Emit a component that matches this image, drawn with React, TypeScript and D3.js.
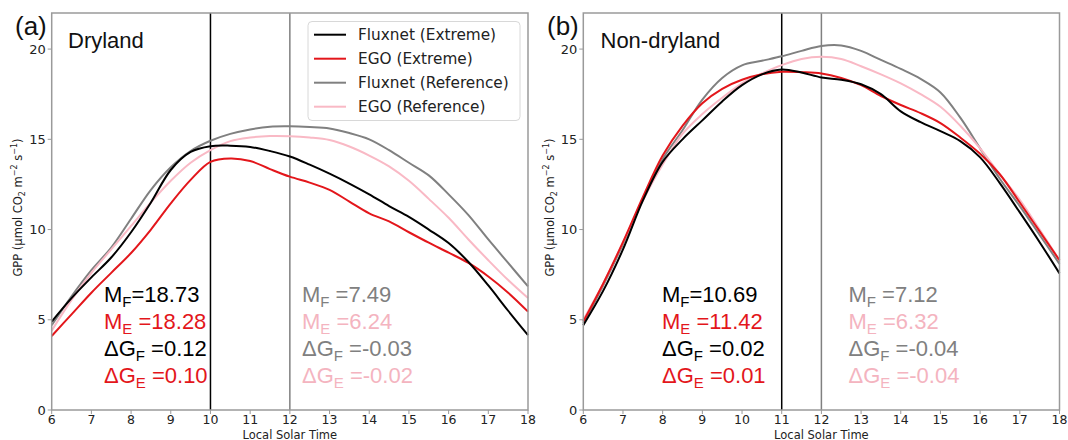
import React from 'react';
import * as d3 from 'd3';

const HOURS = [6, 6.5, 7, 7.5, 8, 8.5, 9, 9.5, 10, 10.5, 11, 11.5, 12, 12.5, 13, 13.5, 14, 14.5, 15, 15.5, 16, 16.5, 17, 17.5, 18];

// Panel (a) Dryland
const DRY_FLUX_EXT = [4.9, 6.2, 7.35, 8.45, 9.85, 11.5, 13.3, 14.3, 14.62, 14.65, 14.58, 14.35, 14.05, 13.6, 13.1, 12.55, 11.95, 11.3, 10.7, 10.0, 9.25, 8.2, 6.9, 5.5, 4.15];
const DRY_EGO_EXT = [4.1, 5.3, 6.5, 7.6, 8.7, 10.0, 11.45, 12.75, 13.75, 13.94, 13.8, 13.35, 12.93, 12.6, 12.2, 11.55, 10.9, 10.45, 9.85, 9.27, 8.72, 8.15, 7.4, 6.5, 5.45];
const DRY_FLUX_REF = [4.7, 6.3, 7.75, 9.0, 10.6, 12.2, 13.45, 14.35, 14.92, 15.3, 15.55, 15.7, 15.72, 15.68, 15.6, 15.35, 15.0, 14.4, 13.7, 13.0, 11.95, 10.8, 9.45, 8.15, 6.85];
const DRY_EGO_REF = [4.4, 6.1, 7.6, 8.9, 10.2, 11.5, 12.7, 13.7, 14.4, 14.9, 15.1, 15.18, 15.17, 15.1, 14.96, 14.6, 14.1, 13.5, 12.7, 11.7, 10.65, 9.45, 8.3, 7.2, 6.2];

// Panel (b) Non-dryland
const NON_FLUX_EXT = [4.7, 6.6, 8.9, 11.6, 13.75, 15.0, 16.05, 17.1, 18.0, 18.6, 18.87, 18.7, 18.43, 18.3, 18.05, 17.5, 16.55, 15.95, 15.45, 14.9, 14.0, 12.56, 10.95, 9.3, 7.57];
const NON_EGO_EXT = [4.9, 7.0, 9.3, 11.8, 14.1, 15.75, 17.0, 17.8, 18.3, 18.6, 18.74, 18.72, 18.65, 18.4, 18.0, 17.4, 16.9, 16.45, 15.9, 15.1, 14.2, 13.05, 11.5, 9.9, 8.3];
const NON_FLUX_REF = [4.8, 6.9, 9.2, 11.7, 13.9, 15.5, 17.2, 18.4, 19.1, 19.35, 19.6, 19.9, 20.17, 20.2, 19.9, 19.4, 18.9, 18.35, 17.6, 16.2, 14.5, 12.8, 11.3, 9.7, 8.1];
const NON_EGO_REF = [5.0, 7.0, 9.3, 11.6, 13.6, 15.3, 16.4, 17.3, 18.1, 18.65, 19.11, 19.45, 19.57, 19.45, 19.05, 18.6, 18.1, 17.5, 16.8, 15.75, 14.5, 13.05, 11.65, 10.0, 8.3];

const X_TICKS = [6, 7, 8, 9, 10, 11, 12, 13, 14, 15, 16, 17, 18];
const Y_TICKS = [0, 5, 10, 15, 20];

const SERIES_NAMES = ['Fluxnet (Extreme)', 'EGO (Extreme)', 'Fluxnet (Reference)', 'EGO (Reference)'];
const SERIES_COLORS = ['#000000', '#e3161b', '#808080', '#f9b9c5'];
const TEXT_COLORS = ['#000000', '#e3161b', '#808080', '#f4b4bf'];

const PANEL_LABELS = ['(a)', '(b)'];
const PANEL_TITLES = ['Dryland', 'Non-dryland'];
const PEAK_EXTREME = [10, 11];
const PEAK_REFERENCE = [12, 12];

const ANNOT_BASE = ['M', 'M', '\u0394G', '\u0394G'];
const ANNOT_SUB = ['F', 'E', 'F', 'E'];
const DRY_EXT_VALUES = ['=18.73', ' =18.28', ' =0.12', ' =0.10'];
const DRY_REF_VALUES = [' =7.49', ' =6.24', ' =-0.03', ' =-0.02'];
const NON_EXT_VALUES = ['=10.69', ' =11.42', ' =0.02', ' =0.01'];
const NON_REF_VALUES = [' =7.12', ' =6.32', ' =-0.04', ' =-0.04'];
const EXT_TEXT_COLORS = [TEXT_COLORS[0], TEXT_COLORS[1], TEXT_COLORS[0], TEXT_COLORS[1]];
const REF_TEXT_COLORS = [TEXT_COLORS[2], TEXT_COLORS[3], TEXT_COLORS[2], TEXT_COLORS[3]];

const X_LABEL = 'Local Solar Time';

const W = 1068;
const H = 440;
const TOP = 13;
const BOTTOM = 410;
const SPINE = '#9a9a9a';
const ARIAL = '"Liberation Sans", Arial, sans-serif';
const DEJAVU = '"DejaVu Sans", sans-serif';

type PanelProps = {
  idx: number;
  left: number;
  right: number;
  series: number[][];
  extValues: string[];
  refValues: string[];
  extX: number;
  refX: number;
  yLabelX: number;
  labelX: number;
  titleX: number;
  legend: boolean;
};

function Annot({ x, values, colors }: { x: number; values: string[]; colors: string[] }) {
  return (
    <g>
      {values.map((v, i) => (
        <text key={i} x={x} y={301.5 + i * 27.3} fontFamily={ARIAL} fontSize={22} fill={colors[i]}>
          {ANNOT_BASE[i]}
          <tspan fontSize={15} dy={5}>{ANNOT_SUB[i]}</tspan>
          <tspan dy={-5}>{v}</tspan>
        </text>
      ))}
    </g>
  );
}

function Panel(p: PanelProps) {
  const x = d3.scaleLinear().domain([6, 18]).range([p.left, p.right]);
  const y = d3.scaleLinear().domain([0, 22]).range([BOTTOM, TOP]);
  const line = d3
    .line<number>()
    .x((_, i) => x(HOURS[i]))
    .y((d) => y(d))
    .curve(d3.curveCatmullRom.alpha(0.5));
  const cy = (TOP + BOTTOM) / 2;
  return (
    <g>
      <line x1={x(PEAK_EXTREME[p.idx])} x2={x(PEAK_EXTREME[p.idx])} y1={TOP} y2={BOTTOM} stroke="#000" strokeWidth={1.5} />
      <line x1={x(PEAK_REFERENCE[p.idx])} x2={x(PEAK_REFERENCE[p.idx])} y1={TOP} y2={BOTTOM} stroke="#808080" strokeWidth={1.5} />
      {[2, 3, 1, 0].map((s) => (
        <path key={s} d={line(p.series[s]) || ''} fill="none" stroke={SERIES_COLORS[s]} strokeWidth={2} />
      ))}
      <rect x={p.left} y={TOP} width={p.right - p.left} height={BOTTOM - TOP} fill="none" stroke={SPINE} strokeWidth={1.5} />
      {X_TICKS.map((t) => (
        <g key={t}>
          <line x1={x(t)} x2={x(t)} y1={BOTTOM} y2={BOTTOM + 4} stroke={SPINE} strokeWidth={1} />
          <text x={x(t)} y={424} textAnchor="middle" fontFamily={DEJAVU} fontSize={12.5} fill="#222">{t}</text>
        </g>
      ))}
      {Y_TICKS.map((t) => (
        <g key={t}>
          <line x1={p.left - 4} x2={p.left} y1={y(t)} y2={y(t)} stroke={SPINE} strokeWidth={1} />
          <text x={p.left - 6} y={y(t) + 4.7} textAnchor="end" fontFamily={DEJAVU} fontSize={13} fill="#222">{t}</text>
        </g>
      ))}
      <text x={(p.left + p.right) / 2} y={438.5} textAnchor="middle" fontFamily={DEJAVU} fontSize={11.5} fill="#222">{X_LABEL}</text>
      <text transform={`translate(${p.yLabelX},${cy - 4}) rotate(-90)`} textAnchor="middle" fontFamily={DEJAVU} fontSize={11.5} fill="#222">
        GPP (μmol CO<tspan fontSize={8} dy={3}>2</tspan>
        <tspan dy={-3}> m</tspan>
        <tspan fontSize={8} dy={-5}>−2</tspan>
        <tspan dy={5}> s</tspan>
        <tspan fontSize={8} dy={-5}>−1</tspan>
        <tspan dy={5}>)</tspan>
      </text>
      <text x={p.labelX} y={35} fontFamily={ARIAL} fontSize={26} fill="#111">{PANEL_LABELS[p.idx]}</text>
      <text x={p.titleX} y={47.5} fontFamily={ARIAL} fontSize={22} fill="#111">{PANEL_TITLES[p.idx]}</text>
      <Annot x={p.extX} values={p.extValues} colors={EXT_TEXT_COLORS} />
      <Annot x={p.refX} values={p.refValues} colors={REF_TEXT_COLORS} />
      {p.legend && (
        <g>
          <rect x={308} y={21.5} width={212} height={99} rx={4} fill="#fff" fillOpacity={0.85} stroke="#d8d8d8" strokeWidth={1} />
          {SERIES_NAMES.map((n, i) => (
            <g key={n}>
              <line x1={314} x2={346} y1={34.7 + i * 24} y2={34.7 + i * 24} stroke={SERIES_COLORS[i]} strokeWidth={2} />
              <text x={358} y={40 + i * 24} fontFamily={DEJAVU} fontSize={15.3} fill="#222">{n}</text>
            </g>
          ))}
        </g>
      )}
    </g>
  );
}

export default function App() {
  return (
    <svg width={W} height={H} style={{ position: 'absolute', left: 0, top: 0, background: '#fff' }}>
      <rect x={0} y={0} width={W} height={H} fill="#fff" />
      <Panel
        idx={0}
        left={51.7}
        right={528}
        series={[DRY_FLUX_EXT, DRY_EGO_EXT, DRY_FLUX_REF, DRY_EGO_REF]}
        extValues={DRY_EXT_VALUES}
        refValues={DRY_REF_VALUES}
        extX={104}
        refX={302}
        yLabelX={22}
        labelX={15}
        titleX={68}
        legend={true}
      />
      <Panel
        idx={1}
        left={583.3}
        right={1059.5}
        series={[NON_FLUX_EXT, NON_EGO_EXT, NON_FLUX_REF, NON_EGO_REF]}
        extValues={NON_EXT_VALUES}
        refValues={NON_REF_VALUES}
        extX={662}
        refX={848.5}
        yLabelX={554}
        labelX={547}
        titleX={600.5}
        legend={false}
      />
    </svg>
  );
}
